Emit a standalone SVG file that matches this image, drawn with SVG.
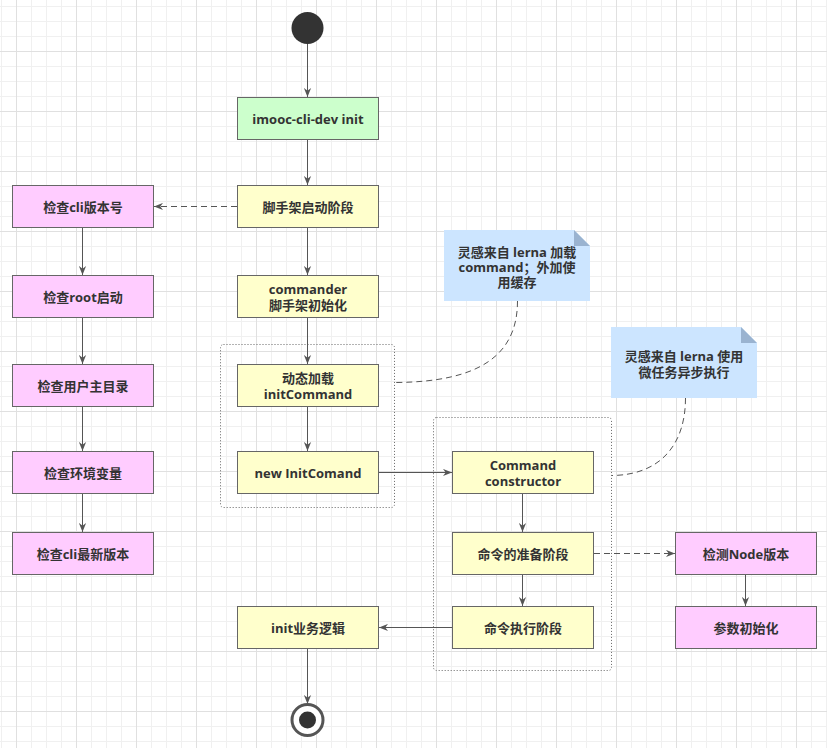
<svg xmlns="http://www.w3.org/2000/svg" width="827" height="748" viewBox="0 0 827 748">
<style>
.n rect{stroke:#666;stroke-width:1}
.y rect{fill:#FFFFCC}
.m rect{fill:#FFCCFF}
.g rect{fill:#CCFFCC}
text{font-family:"Open Sans","Noto Sans CJK SC",sans-serif;font-size:13px;font-weight:bold;fill:#333;text-anchor:middle;dominant-baseline:central}
.c path,.c line{stroke:#555;stroke-width:1;fill:none}
.d{stroke-dasharray:6 4}
.box{fill:none;stroke:#666;stroke-width:1;stroke-dasharray:1 2}
.note polygon.b{fill:#CCE5FF}
.note polygon.f{fill:#9AB3D0}
</style>
<defs>
<pattern id="grid" x="16" y="51" width="60" height="60" patternUnits="userSpaceOnUse">
<path d="M15.5 0V60M30.5 0V60M45.5 0V60M0 15.5H60M0 30.5H60M0 45.5H60" stroke="#f0f0f0" stroke-width="1" fill="none"/>
<path d="M0.5 0V60M0 0.5H60" stroke="#e0e0e0" stroke-width="1" fill="none"/>
</pattern>
<marker id="a" viewBox="0 0 10 8" refX="10" refY="4" markerWidth="9" markerHeight="8" markerUnits="userSpaceOnUse" orient="auto">
<path d="M0,0 L10,4 L0,8 L3,4 Z" fill="#555"/>
</marker>
</defs>
<rect width="827" height="748" fill="#fff"/>
<rect width="827" height="748" fill="url(#grid)"/>

<g id="containers">
<rect class="box" x="220.5" y="344.5" width="174" height="163" rx="3"/>
<rect class="box" x="433.5" y="417.5" width="178" height="253" rx="3"/>
</g>

<g id="start"><circle cx="307.5" cy="28" r="16" fill="#333"/></g>
<g id="end"><circle cx="307.5" cy="720" r="15.5" fill="#fff" stroke="#555" stroke-width="3"/><circle cx="307.5" cy="720" r="8.5" fill="#333"/></g>

<g id="init" class="n g"><rect x="237.5" y="97.5" width="141" height="42"/><text x="308" y="118.5">imooc-cli-dev init</text></g>
<g id="scaffold" class="n y"><rect x="237.5" y="185.5" width="141" height="42"/><text x="308" y="206.5">脚手架启动阶段</text></g>
<g id="commander" class="n y"><rect x="237.5" y="275.5" width="141" height="42"/><text x="308" y="288.5">commander<tspan x="308" dy="16">脚手架初始化</tspan></text></g>
<g id="dynload" class="n y"><rect x="237.5" y="364.5" width="141" height="42"/><text x="308" y="377.5">动态加载<tspan x="308" dy="16">initCommand</tspan></text></g>
<g id="newinit" class="n y"><rect x="237.5" y="451.5" width="141" height="42"/><text x="308" y="472.5">new InitComand</text></g>
<g id="initlogic" class="n y"><rect x="237.5" y="606.5" width="141" height="42"/><text x="308" y="627.5">init业务逻辑</text></g>

<g id="chkcli" class="n m"><rect x="12.5" y="185.5" width="141" height="42"/><text x="83" y="206.5">检查cli版本号</text></g>
<g id="chkroot" class="n m"><rect x="12.5" y="275.5" width="141" height="42"/><text x="83" y="296.5">检查root启动</text></g>
<g id="chkhome" class="n m"><rect x="12.5" y="364.5" width="141" height="42"/><text x="83" y="385.5">检查用户主目录</text></g>
<g id="chkenv" class="n m"><rect x="12.5" y="451.5" width="141" height="42"/><text x="83" y="472.5">检查环境变量</text></g>
<g id="chklatest" class="n m"><rect x="12.5" y="532.5" width="141" height="42"/><text x="83" y="553.5">检查cli最新版本</text></g>

<g id="cmdctor" class="n y"><rect x="452.5" y="451.5" width="141" height="42"/><text x="523" y="464.5">Command<tspan x="523" dy="16">constructor</tspan></text></g>
<g id="prepare" class="n y"><rect x="452.5" y="532.5" width="141" height="42"/><text x="523" y="553.5">命令的准备阶段</text></g>
<g id="exec" class="n y"><rect x="452.5" y="606.5" width="141" height="42"/><text x="523" y="627.5">命令执行阶段</text></g>

<g id="chknode" class="n m"><rect x="675.5" y="532.5" width="141" height="42"/><text x="746" y="553.5">检测Node版本</text></g>
<g id="params" class="n m"><rect x="675.5" y="606.5" width="141" height="42"/><text x="746" y="627.5">参数初始化</text></g>

<g id="note1" class="note">
<polygon class="b" points="444,230 574,230 590,246 590,301 444,301"/>
<polygon class="f" points="574,230 590,246 574,246"/>
<text x="517" y="252">灵感来自 lerna 加载<tspan x="517" dy="15">command；外加使</tspan><tspan x="517" dy="15">用缓存</tspan></text>
</g>
<g id="note2" class="note">
<polygon class="b" points="611,327 741,327 757,343 757,398 611,398"/>
<polygon class="f" points="741,327 757,343 741,343"/>
<text x="684" y="356">灵感来自 lerna 使用<tspan x="684" dy="16">微任务异步执行</tspan></text>
</g>

<g id="connectors" class="c">
<line x1="307.5" y1="44" x2="307.5" y2="97" marker-end="url(#a)"/>
<line x1="307.5" y1="140" x2="307.5" y2="185" marker-end="url(#a)"/>
<line class="d" x1="237" y1="206.5" x2="154" y2="206.5" marker-end="url(#a)"/>
<line x1="307.5" y1="228" x2="307.5" y2="275" marker-end="url(#a)"/>
<line x1="307.5" y1="318" x2="307.5" y2="364" marker-end="url(#a)"/>
<line x1="307.5" y1="407" x2="307.5" y2="451" marker-end="url(#a)"/>
<line x1="379" y1="472.5" x2="452" y2="472.5" marker-end="url(#a)"/>
<line x1="522.5" y1="494" x2="522.5" y2="532" marker-end="url(#a)"/>
<line x1="522.5" y1="575" x2="522.5" y2="606" marker-end="url(#a)"/>
<line class="d" x1="594" y1="553.5" x2="675" y2="553.5" marker-end="url(#a)"/>
<line x1="745.5" y1="575" x2="745.5" y2="606" marker-end="url(#a)"/>
<line x1="452" y1="627.5" x2="379" y2="627.5" marker-end="url(#a)"/>
<line x1="307.5" y1="649" x2="307.5" y2="704" marker-end="url(#a)"/>
<line x1="82.5" y1="228" x2="82.5" y2="275" marker-end="url(#a)"/>
<line x1="82.5" y1="318" x2="82.5" y2="364" marker-end="url(#a)"/>
<line x1="82.5" y1="407" x2="82.5" y2="451" marker-end="url(#a)"/>
<line x1="82.5" y1="494" x2="82.5" y2="532" marker-end="url(#a)"/>
<path class="d" d="M517.5,301 C517.5,355 480,382 395,382.5"/>
<path class="d" d="M685.5,398 C685.5,445 660,475 612,475.5"/>
</g>
</svg>
